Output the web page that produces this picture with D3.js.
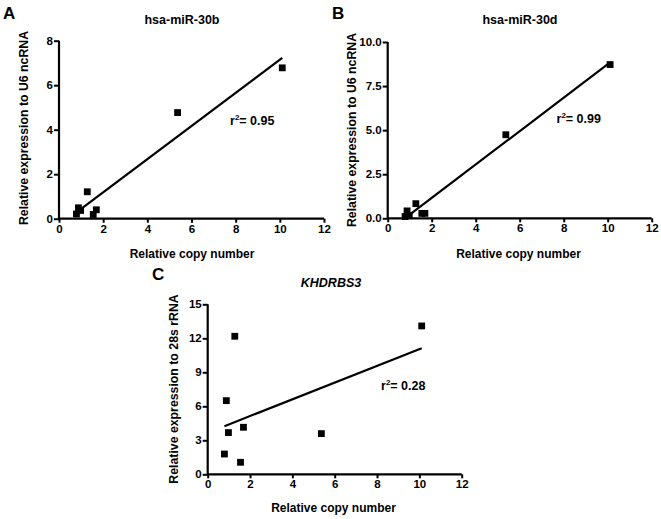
<!DOCTYPE html>
<html>
<head>
<meta charset="utf-8">
<script src="https://cdn.jsdelivr.net/npm/d3@7"></script>
<style>
  html, body { margin: 0; padding: 0; background: #fff; }
  text { font-family: "Liberation Sans", Arial, sans-serif; font-weight: bold; fill: #000; }
</style>
</head>
<body>
<svg id="chart" width="661" height="519"></svg>
<script>
// ---- data ----
const copyNumber = [0.79, 0.88, 0.98, 1.28, 1.55, 1.69, 5.37, 10.11];
const miR30b     = [0.21, 0.49, 0.37, 1.21, 0.19, 0.40, 4.77, 6.78];
const miR30d     = [0.10, 0.42, 0.15, 0.83, 0.28, 0.28, 4.74, 8.72];
const khdrbs3    = [1.79, 6.50, 3.68, 12.18, 1.06, 4.15, 3.59, 13.09];

const panelLetters = ["A", "B", "C"];
const titles = ["hsa-miR-30b", "hsa-miR-30d", "KHDRBS3"];
const yLabels = ["Relative expression to U6 ncRNA", "Relative expression to U6 ncRNA", "Relative expression to 28s rRNA"];
const xLabel = "Relative copy number";
const r2Labels = ["0.95", "0.99", "0.28"];
const xTicks = [0, 2, 4, 6, 8, 10, 12];
const yTicksA = [0, 2, 4, 6, 8];
const yTicksB = [0, 2.5, 5.0, 7.5, 10.0];
const yTicksC = [0, 3, 6, 9, 12, 15];

const svg = d3.select("#chart");

function linReg(xs, ys) {
  const n = xs.length;
  const mx = d3.mean(xs), my = d3.mean(ys);
  let sxy = 0, sxx = 0;
  for (let i = 0; i < n; i++) { sxy += (xs[i]-mx)*(ys[i]-my); sxx += (xs[i]-mx)**2; }
  const b = sxy / sxx;
  return { b, a: my - b * mx };
}

function panel(cfg) {
  const x = d3.scaleLinear().domain([0, 12]).range([cfg.x0, cfg.x1]);
  const y = d3.scaleLinear().domain([0, cfg.yMax]).range([cfg.y0, cfg.y1]);
  const g = svg.append("g");

  const xAxis = d3.axisBottom(x).tickValues(xTicks).tickSize(4).tickPadding(2).tickFormat(d3.format("d"));
  const yAxis = d3.axisLeft(y).tickValues(cfg.yTicks).tickSize(5).tickPadding(1).tickFormat(cfg.yFmt);

  const gx = g.append("g").attr("transform", `translate(0,${cfg.y0})`).call(xAxis);
  const gy = g.append("g").attr("transform", `translate(${cfg.x0},0)`).call(yAxis);
  [gx, gy].forEach(a => {
    a.selectAll("path.domain").attr("stroke", "#000").attr("stroke-width", 2.2);
    a.selectAll(".tick line").attr("stroke", "#000").attr("stroke-width", 2);
    a.selectAll(".tick text").style("font-size", "11.5px").style("font-weight", "bold")
      .style("font-family", '"Liberation Sans", Arial, sans-serif').attr("fill", "#000");
  });
  gx.select("path.domain").attr("d", `M${cfg.x0},0H${cfg.x1}`);
  gy.select("path.domain").attr("d", `M0,${cfg.y0}V${cfg.y1}`);

  // regression line
  const ys = cfg.values;
  const { a, b } = linReg(copyNumber, ys);
  const xmin = d3.min(copyNumber), xmax = d3.max(copyNumber);
  g.append("line")
    .attr("x1", x(xmin)).attr("y1", y(a + b * xmin))
    .attr("x2", x(xmax)).attr("y2", y(a + b * xmax))
    .attr("stroke", "#000").attr("stroke-width", 2.2);

  // points
  const s = 6.8;
  g.selectAll("rect.pt").data(copyNumber.map((c, i) => [c, ys[i]])).enter()
    .append("rect").attr("class", "pt")
    .attr("x", d => x(d[0]) - s/2).attr("y", d => y(d[1]) - s/2)
    .attr("width", s).attr("height", s).attr("fill", "#000");

  // texts
  g.append("text").attr("x", cfg.letterX).attr("y", cfg.letterY).style("font-size", "17px").text(cfg.letter);
  g.append("text").attr("x", cfg.titleX).attr("y", cfg.titleY).attr("text-anchor", "middle")
    .style("font-size", "12.5px").style("font-style", cfg.italic ? "italic" : "normal").text(cfg.title);
  g.append("text").attr("x", cfg.xLabX).attr("y", cfg.xLabY).attr("text-anchor", "middle")
    .style("font-size", "12px").text(xLabel);
  g.append("text").attr("transform", `translate(${cfg.yLabX},${cfg.yLabY}) rotate(-90)`)
    .attr("text-anchor", "middle").style("font-size", "12.3px").text(cfg.yLabel);
  const r = g.append("text").attr("x", cfg.r2X).attr("y", cfg.r2Y).style("font-size", "12.5px");
  r.append("tspan").text("r");
  r.append("tspan").attr("dy", -5).style("font-size", "8px").text("2");
  r.append("tspan").attr("dy", 5).text("= " + cfg.r2);
}

panel({ x0: 59, x1: 324, y0: 218.7, y1: 40.7, yMax: 8, yTicks: yTicksA, yFmt: d3.format("d"),
  values: miR30b, letter: panelLetters[0], letterX: 3, letterY: 18.5,
  title: titles[0], titleX: 182, titleY: 24, italic: false,
  xLabX: 192, xLabY: 258, yLabX: 27.5, yLabY: 128, yLabel: yLabels[0],
  r2: r2Labels[0], r2X: 230, r2Y: 125 });

panel({ x0: 387.7, x1: 651.7, y0: 218.3, y1: 42, yMax: 10, yTicks: yTicksB, yFmt: d3.format(".1f"),
  values: miR30d, letter: panelLetters[1], letterX: 332, letterY: 18.5,
  title: titles[1], titleX: 520, titleY: 24, italic: false,
  xLabX: 518.5, xLabY: 258, yLabX: 356, yLabY: 130, yLabel: yLabels[1],
  r2: r2Labels[1], r2X: 556.5, r2Y: 123 });

panel({ x0: 207.7, x1: 461.7, y0: 474.3, y1: 304.3, yMax: 15, yTicks: yTicksC, yFmt: d3.format("d"),
  values: khdrbs3, letter: panelLetters[2], letterX: 152, letterY: 279.5,
  title: titles[2], titleX: 331, titleY: 287, italic: true,
  xLabX: 333.5, xLabY: 511.5, yLabX: 177.5, yLabY: 389, yLabel: yLabels[2],
  r2: r2Labels[2], r2X: 381, r2Y: 390 });
</script>
</body>
</html>
